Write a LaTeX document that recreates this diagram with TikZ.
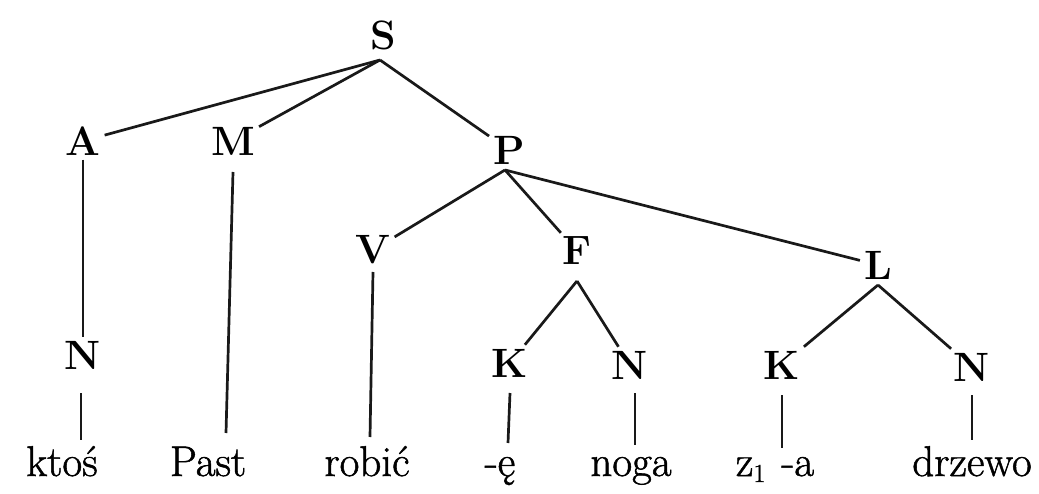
\documentclass[tikz,border=0pt]{standalone}
\usepackage{fontspec}
\newfontfamily\wordfont[FakeBold=1.2]{Latin Modern Roman}
\begin{document}
\begin{tikzpicture}[x=1pt,y=-1pt,
  lbl/.style={font=\fontsize{41}{48}\selectfont\bfseries, inner sep=4pt, text=black},
  word/.style={font=\wordfont\fontsize{43}{50}\selectfont, inner sep=4pt, anchor=base, text=black},
  edge/.style={line width=2.7pt, black!90}]
\useasboundingbox[fill=white] (0,0) rectangle (1039,494);
\node[lbl] (S) at (383,35) {S};
\node[lbl] (A) at (83,141) {A};
\node[lbl] (M) at (233,141) {M};
\node[lbl] (P) at (509,150) {P};
\node[lbl] (V) at (373,250) {V};
\node[lbl] (F) at (577,251) {F};
\node[lbl] (L) at (878,265) {L};
\node[lbl] (N1) at (83,355) {N};
\node[lbl] (K1) at (510,363) {K};
\node[lbl] (N2) at (630,365) {N};
\node[lbl] (K2) at (782,365) {K};
\node[lbl] (N3) at (972,367) {N};
\node[word] (w1) at (62,476) {ktoś};
\node[word] (w2) at (208,476) {Past};
\node[word] (w3) at (367,476) {robić};
\node[word] (w4) at (500,476) {-ę};
\node[word] (w5) at (631,476) {noga};
\node[word] (w6) at (775,476) {z\raisebox{-6pt}{\fontsize{26}{30}\selectfont 1}\hspace{16pt}-a};
\node[word] (w7) at (972,476) {drzewo};
\coordinate (Sb) at (380,60);
\coordinate (Pb) at (505,170);
\coordinate (Fb) at (577,281);
\coordinate (Lb) at (878,285);
% stem end points
\coordinate (m1) at (233,172);  \coordinate (m2) at (226,433);
\coordinate (n1a) at (81,393);  \coordinate (n1b) at (81,440);
\coordinate (v1) at (373,272);  \coordinate (v2) at (370,437);
\coordinate (k1a) at (510,393); \coordinate (k1b) at (508,443);
\coordinate (n2a) at (635,393); \coordinate (n2b) at (635,445);
\coordinate (k2a) at (782,395); \coordinate (k2b) at (782,448);
\coordinate (n3a) at (972,395); \coordinate (n3b) at (972,440);
\draw[edge] (Sb) -- (A);
\draw[edge] (Sb) -- (M);
\draw[edge] (Sb) -- (P);
\draw[edge] (A) -- (N1);
\draw[edge] (m1) -- (m2);
\draw[edge] (n1a) -- (n1b);
\draw[edge] (Pb) -- (V);
\draw[edge] (Pb) -- (F);
\draw[edge] (Pb) -- (L);
\draw[edge] (v1) -- (v2);
\draw[edge] (Fb) -- (K1);
\draw[edge] (Fb) -- (N2);
\draw[edge] (Lb) -- (K2);
\draw[edge] (Lb) -- (N3);
\draw[edge] (k1a) -- (k1b);
\draw[edge] (n2a) -- (n2b);
\draw[edge] (k2a) -- (k2b);
\draw[edge] (n3a) -- (n3b);
\end{tikzpicture}
\end{document}
